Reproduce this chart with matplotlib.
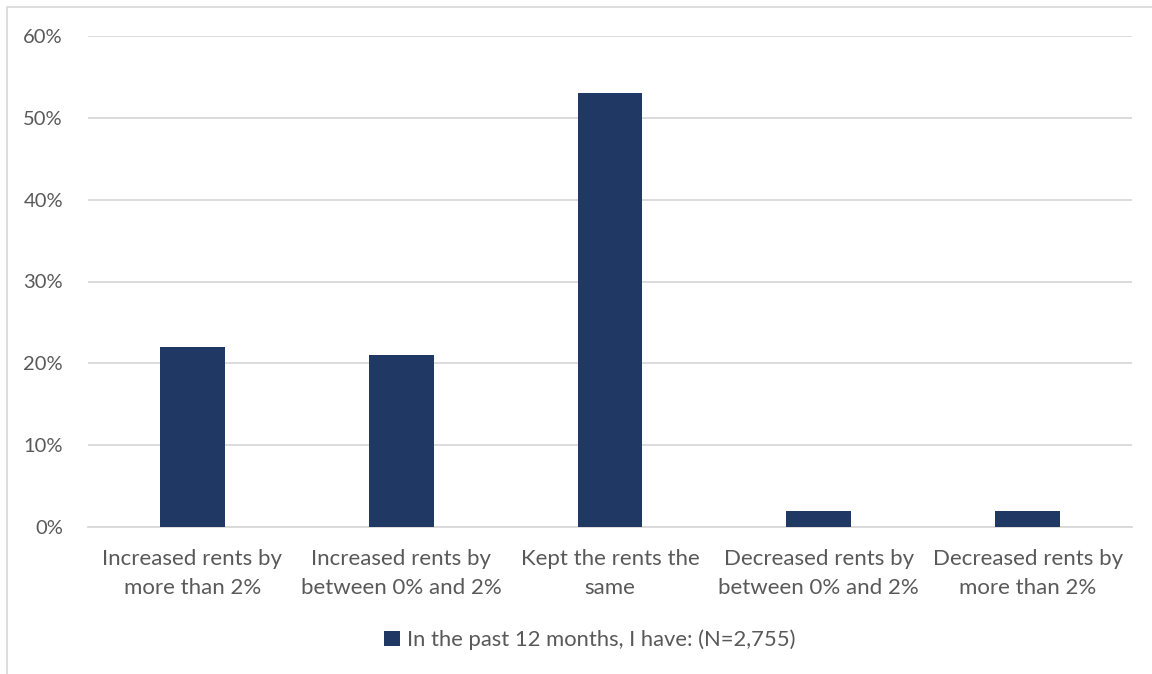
import matplotlib.pyplot as plt
from matplotlib.patches import Rectangle
from matplotlib.ticker import PercentFormatter

categories = [
    "Increased rents by\nmore than 2%",
    "Increased rents by\nbetween 0% and 2%",
    "Kept the rents the\nsame",
    "Decreased rents by\nbetween 0% and 2%",
    "Decreased rents by\nmore than 2%",
]
shares = [22, 21, 53, 2, 2]
series_label = "In the past 12 months, I have: (N=2,755)"

bar_color = "#1F3864"
text_color = "#595959"
grid_color = "#D9D9D9"

plt.rcParams["font.family"] = ["Lato", "DejaVu Sans"]

fig = plt.figure(figsize=(11.52, 6.74), dpi=100)
ax = fig.add_axes([88 / 1152, 1 - 527 / 674, 1044 / 1152, 491 / 674])

x = list(range(len(categories)))
ax.bar(x, shares, width=0.31, color=bar_color, label=series_label, zorder=3)

ax.set_xlim(-0.5, len(categories) - 0.5)
ax.set_ylim(0, 60)
ax.set_yticks(range(0, 61, 10))
ax.yaxis.set_major_formatter(PercentFormatter(decimals=0))
ax.set_xticks(x)
ax.set_xticklabels(categories, linespacing=1.55)
ax.tick_params(axis="both", length=0, colors=text_color)
ax.tick_params(axis="x", pad=16, labelsize=16)
ax.tick_params(axis="y", pad=18, labelsize=14.5)
ax.grid(axis="y", color=grid_color, linewidth=1.3, zorder=0)
for side in ["top", "right", "left"]:
    ax.spines[side].set_visible(False)
ax.spines["bottom"].set_color(grid_color)
ax.spines["bottom"].set_linewidth(1.3)

leg = fig.legend(
    loc="center",
    bbox_to_anchor=(590 / 1152, 1 - 640 / 674),
    frameon=False,
    fontsize=15.8,
    handlelength=0.7,
    handleheight=0.7,
    handletextpad=0.35,
)
for t in leg.get_texts():
    t.set_color(text_color)

# light outer frame around the chart area
fig.patches.append(Rectangle((7 / 1152, -0.01), 1.02, 1 - 7 / 674 + 0.01,
                             transform=fig.transFigure, fill=False,
                             edgecolor=grid_color, linewidth=1.2))

fig.savefig("out.png", dpi=100)
